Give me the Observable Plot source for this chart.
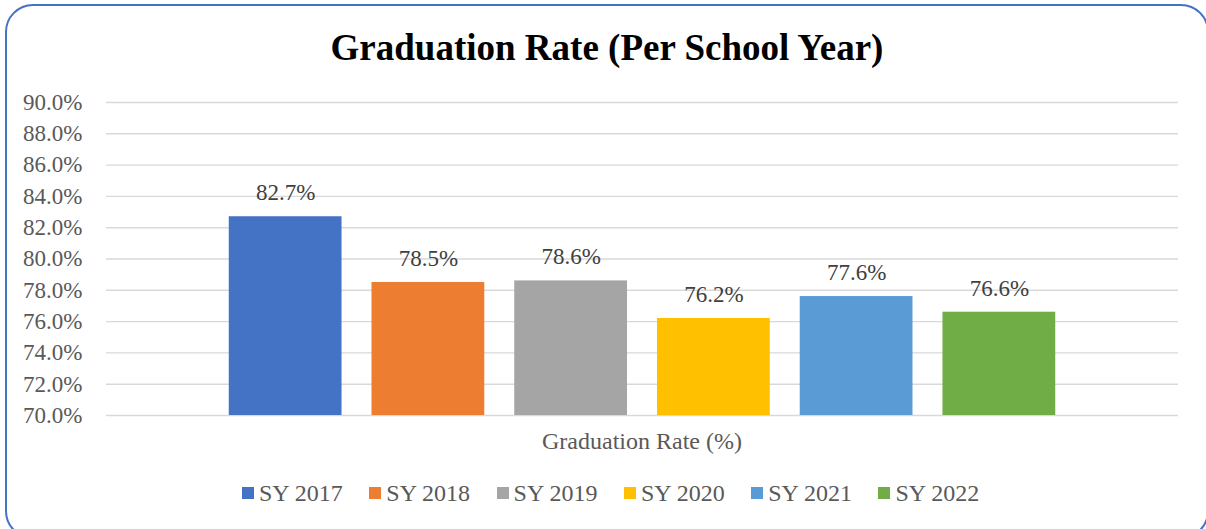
<!DOCTYPE html>
<html>
<head>
<meta charset="utf-8">
<script src="https://cdn.jsdelivr.net/npm/d3@7"></script>
<script src="https://cdn.jsdelivr.net/npm/@observablehq/plot@0.6"></script>
<style>
  html, body { margin: 0; padding: 0; background: #fff; }
  #wrap { position: relative; width: 1206px; height: 529px; overflow: hidden; font-family: "Liberation Serif", "Times New Roman", serif; }
  #border { position: absolute; left: 5px; top: 4px; width: 1204px; height: 535px; border: 2px solid #4472C4; border-radius: 28px; box-sizing: border-box; }
  #title { position: absolute; left: 0; width: 1214px; top: 27px; text-align: center; font-weight: bold; font-size: 37px; color: #000; line-height: 42px; }
  #chart { position: absolute; left: 0; top: 80px; }
  #chart svg text { font-family: "Liberation Serif", "Times New Roman", serif; }
  #xlabel { position: absolute; left: 106px; width: 1072px; top: 427px; text-align: center; font-size: 24px; color: #595959; line-height: 28px; }
  #legend { position: absolute; left: 242px; top: 479px; display: flex; font-size: 24px; color: #595959; line-height: 28px; }
  .item { width: 127.3px; display: flex; align-items: center; white-space: nowrap; }
  .sw { width: 12px; height: 12px; margin-right: 5px; flex: none; }
</style>
</head>
<body>
<div id="wrap">
  <div id="border"></div>
  <div id="title">Graduation Rate (Per School Year)</div>
  <div id="chart"></div>
  <div id="xlabel">Graduation Rate (%)</div>
  <div id="legend"></div>
</div>
<script>
const years = ["SY 2017", "SY 2018", "SY 2019", "SY 2020", "SY 2021", "SY 2022"];
const rates = [82.7, 78.5, 78.6, 76.2, 77.6, 76.6];
const colors = ["#4472C4", "#ED7D31", "#A5A5A5", "#FFC000", "#5B9BD5", "#70AD47"];
const yTicks = [70, 72, 74, 76, 78, 80, 82, 84, 86, 88, 90];

const data = years.map((y, i) => ({year: y, rate: rates[i]}));
const serif = "'Liberation Serif', 'Times New Roman', serif";

const chart = Plot.plot({
  width: 1206,
  height: 345,
  marginLeft: 106,
  marginRight: 28,
  marginTop: 22,
  marginBottom: 10,
  style: {fontFamily: serif, fontSize: "23px", background: "transparent", overflow: "visible"},
  x: {type: "band", domain: years, paddingInner: 0.21, paddingOuter: 0.86, round: false, axis: null},
  y: {domain: [70, 90]},
  color: {domain: years, range: colors},
  marks: [
    Plot.ruleY(yTicks, {stroke: "#d9d9d9", strokeWidth: 1.4}),
    Plot.axisY({ticks: yTicks, tickSize: 0, tickPadding: 24, tickFormat: d => d.toFixed(1) + "%", fill: "#595959", fontSize: 23, fontFamily: serif, label: null}),
    Plot.barY(data, {x: "year", y1: 70, y2: "rate", fill: "year"}),
    Plot.text(data, {x: "year", y: "rate", text: d => d.rate.toFixed(1) + "%", dy: -24, fill: "#404040", fontSize: 23, fontFamily: serif})
  ]
});
document.getElementById("chart").appendChild(chart);

const legend = document.getElementById("legend");
years.forEach((y, i) => {
  const it = document.createElement("div");
  it.className = "item";
  const sw = document.createElement("span");
  sw.className = "sw";
  sw.style.background = colors[i];
  const t = document.createElement("span");
  t.textContent = y;
  it.appendChild(sw);
  it.appendChild(t);
  legend.appendChild(it);
});
</script>
</body>
</html>
